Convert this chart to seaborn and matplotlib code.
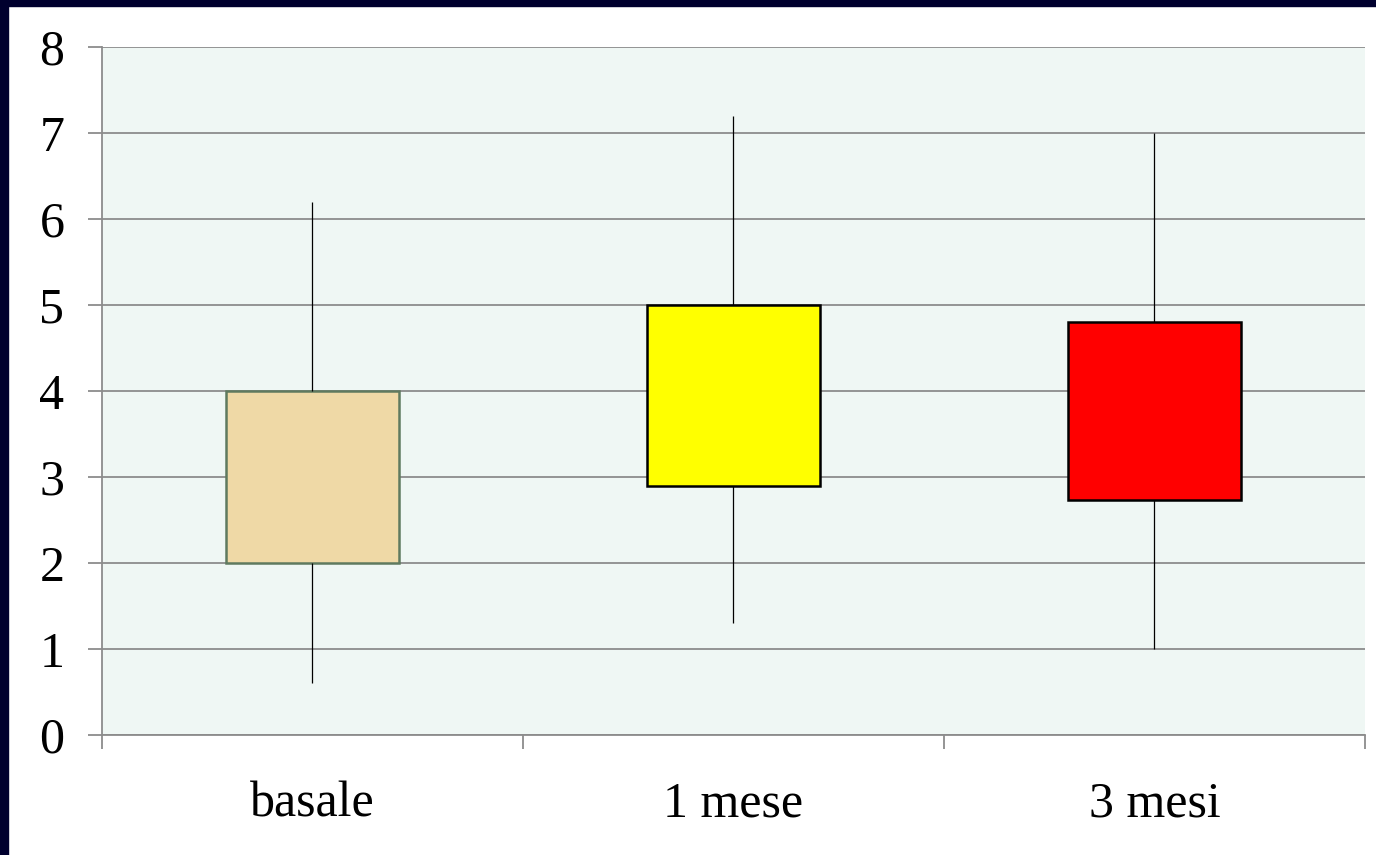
import pandas as pd
import matplotlib.pyplot as plt
import matplotlib.patches as mpatches
import seaborn as sns

# Dati (min, Q1, Q3, max)
gruppi = ['basale', '1 mese', '3 mesi']
minimi = [0.6, 1.3, 1.0]
q1 = [2.0, 2.9, 2.73]
q3 = [4.0, 5.0, 4.8]
massimi = [6.2, 7.2, 7.0]
colori = ['#EFD9A6', '#FFFF00', '#FF0000']
bordi = ['#5F7A5F', '#000000', '#000000']

# Cinque punti per gruppo: con whis=(0, 100) i baffi vanno da min a max
righe = []
for g, lo, a, b, hi in zip(gruppi, minimi, q1, q3, massimi):
    for v in [lo, a, a, b, hi]:
        righe.append({'gruppo': g, 'valore': v})
df = pd.DataFrame(righe)

sns.set_style('white')
plt.rcParams['font.family'] = ['Liberation Serif', 'DejaVu Serif']

fig = plt.figure(figsize=(13.76, 8.55), dpi=100, facecolor='white')
ax = fig.add_axes([0.0741, 0.1404, 0.9179, 0.8046])
ax.set_facecolor('#EFF7F4')

sns.boxplot(data=df, x='gruppo', y='valore', hue='gruppo', order=gruppi,
            palette=colori, saturation=1, legend=False, whis=(0, 100), width=0.41,
            showcaps=False, showfliers=False, linecolor='black', linewidth=0.9,
            medianprops={'visible': False}, ax=ax, zorder=3)

# Bordi dei box
for patch, c in zip(ax.patches, bordi):
    patch.set_edgecolor(c)
    patch.set_linewidth(1.8)

ax.set_ylim(0, 8)
ax.set_xlim(-0.5, 2.5)
ax.set_yticks(range(0, 9))
ax.yaxis.grid(True, color='#8C8C8C', linewidth=1.3, zorder=0)
ax.set_axisbelow(True)
ax.set_xlabel('')
ax.set_ylabel('')

for s in ['top', 'right']:
    ax.spines[s].set_visible(False)
for s in ['left', 'bottom']:
    ax.spines[s].set_color('#8C8C8C')
    ax.spines[s].set_linewidth(1.3)

ax.tick_params(axis='y', length=10, width=1.3, color='#8C8C8C', pad=17,
               labelsize=36, labelcolor='black', left=True)
ax.tick_params(axis='x', which='major', length=0, pad=33, labelsize=36,
               labelcolor='black')
ax.set_xticks([-0.5, 0.5, 1.5, 2.5], minor=True)
ax.tick_params(axis='x', which='minor', length=10, width=1.3, color='#8C8C8C',
               bottom=True)

# Cornice scura della diapositiva (in alto e a sinistra)
fig.patches.append(mpatches.Rectangle((0, 0.993), 1, 0.007, transform=fig.transFigure,
                                      color='#00002E', zorder=10))
fig.patches.append(mpatches.Rectangle((0, 0), 0.0058, 1, transform=fig.transFigure,
                                      color='#00002E', zorder=10))

fig.savefig('out.png', dpi=100, facecolor='white')
